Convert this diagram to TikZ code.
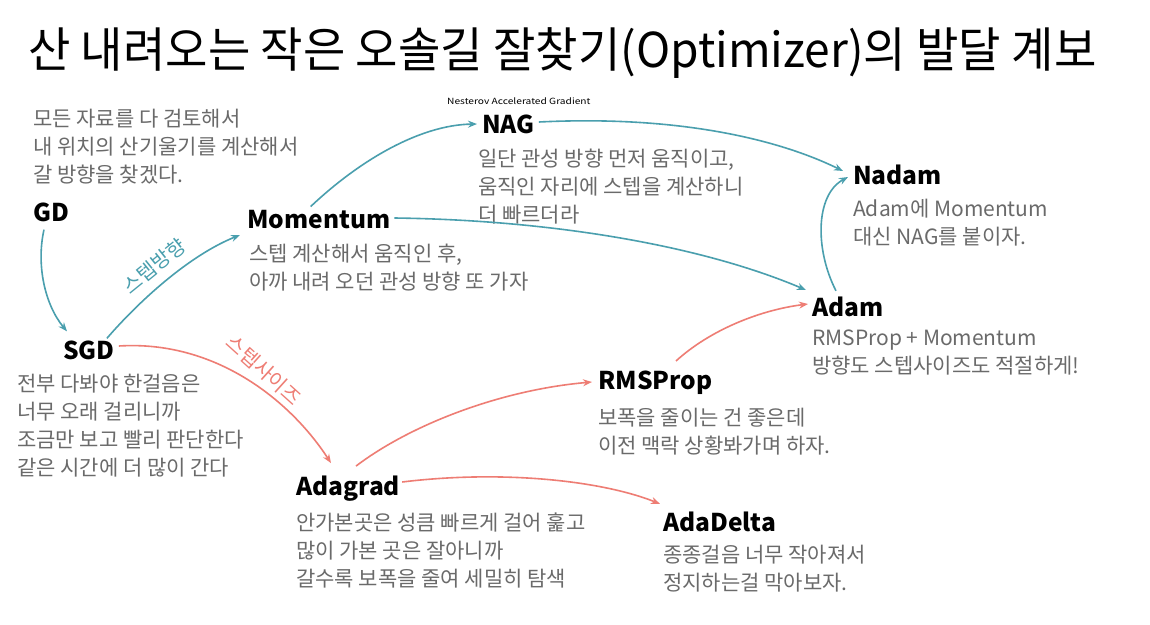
\documentclass[tikz,border=0pt]{standalone}
\usepackage{fontspec}
\setmainfont{Noto Sans CJK KR}
\newfontfamily\titlefont[FakeStretch=0.96]{Noto Sans CJK KR}
\newfontfamily\widefont[FakeStretch=1.2]{Noto Sans CJK KR}
\usetikzlibrary{arrows.meta,calc}
\definecolor{tealc}{HTML}{4A9FAE}
\definecolor{salmonc}{HTML}{EE7D74}
\definecolor{descc}{HTML}{6A6A6A}
\begin{document}
\begin{tikzpicture}[x=1pt,y=-1pt,
  lbl/.style={font=\fontsize{24.5}{28}\selectfont\bfseries, anchor=west, inner sep=0pt},
  dsc/.style={font=\fontsize{21}{28}\selectfont, text=descc, align=left, anchor=north west, inner sep=0pt},
  tarr/.style={draw=tealc, line width=1.6pt, -{Stealth[length=9pt,width=7pt]}},
  sarr/.style={draw=salmonc, line width=1.6pt, -{Stealth[length=9pt,width=7pt]}},
  elbl/.style={font=\fontsize{20}{22}\selectfont, inner sep=0pt}]
\useasboundingbox[fill=white] (0,0) rectangle (1150,624);

\node[anchor=west, inner sep=0pt, font=\titlefont\fontsize{48}{52}\selectfont] (title) at (28,53) {산 내려오는 작은 오솔길 잘찾기(Optimizer)의 발달 계보};

\node[dsc] (gdd) at (33,109) {모든 자료를 다 검토해서\\내 위치의 산기울기를 계산해서\\갈 방향을 찾겠다.};
\node[lbl] (gd) at (33,212) {GD};

\node[lbl] (mom) at (247,220) {Momentum};
\node[dsc] (momd) at (249,244) {스텝 계산해서 움직인 후,\\아까 내려 오던 관성 방향 또 가자};

\node[anchor=west, inner sep=0pt, font=\widefont\fontsize{8.5}{9}\selectfont] (nagf) at (447,101) {Nesterov Accelerated Gradient};
\node[lbl] (nag) at (482,124) {NAG};
\node[dsc] (nagd) at (478,149) {일단 관성 방향 먼저 움직이고,\\움직인 자리에 스텝을 계산하니\\더 빠르더라};

\node[lbl] (nadam) at (853,175) {Nadam};
\node[dsc] (nadamd) at (853,199) {Adam에 Momentum\\대신 NAG를 붙이자.};

\node[lbl] (adam) at (812,307) {Adam};
\node[dsc] (adamd) at (812,330) {RMSProp + Momentum\\방향도 스텝사이즈도 적절하게!};

\node[lbl] (sgd) at (63,350) {SGD};
\node[dsc] (sgdd) at (17,374) {전부 다봐야 한걸음은\\너무 오래 걸리니까\\조금만 보고 빨리 판단한다\\같은 시간에 더 많이 간다};

\node[lbl] (rms) at (598,383) {RMSProp};
\node[dsc] (rmsd) at (598,408) {보폭을 줄이는 건 좋은데\\이전 맥락 상황봐가며 하자.};

\node[lbl] (adag) at (296,489) {Adagrad};
\node[dsc] (adagd) at (296,513) {안가본곳은 성큼 빠르게 걸어 훑고\\많이 가본 곳은 잘아니까\\갈수록 보폭을 줄여 세밀히 탐색};

\node[lbl] (adad) at (663,522) {AdaDelta};
\node[dsc] (adadd) at (663,545) {종종걸음 너무 작아져서\\정지하는걸 막아보자.};

% connectors
\draw[tarr] ($(gd.south west)+(11,8)$) .. controls (36,265) and (45,305) .. ($(sgd.north west)+(4,-9)$);
\draw[tarr] ($(sgd.north east)+(-8,-2)$) .. controls (140,300) and (190,255) .. ($(mom.west)+(-7,15)$);
\draw[tarr] ($(mom.north)+(-8,-4)$) .. controls (360,160) and (420,125) .. ($(nag.west)+(-5,0)$);
\draw[tarr] ($(nag.east)+(4,-2)$) .. controls (680,115) and (780,140) .. ($(nadam.west)+(-10,-4)$);
\draw[tarr] ($(mom.east)+(4,-2)$) .. controls (550,220) and (700,245) .. ($(adam.west)+(-6,-17)$);
\draw[tarr] ($(adam.north west)+(24,-6)$) .. controls (815,250) and (815,195) .. ($(nadam.west)+(-5,2)$);
\draw[sarr] ($(sgd.east)+(4,-4)$) .. controls (215,340) and (290,400) .. ($(adag.north west)+(35,-13)$);
\draw[sarr] ($(adag.north west)+(60,-10)$) .. controls (410,425) and (500,390) .. ($(rms.west)+(-6,-1)$);
\draw[sarr] ($(rms.north west)+(78,-10)$) .. controls (710,330) and (760,310) .. ($(adam.west)+(-4,-3)$);
\draw[sarr] ($(adag.east)+(2,-7)$) .. controls (500,470) and (600,480) .. ($(adad.north west)+(-3,-8)$);

% edge labels
\node[elbl, text=tealc, rotate=39] (lab1) at (154,266) {스텝방향};
\node[elbl, text=salmonc, rotate=-42] (lab2) at (264,370) {스텝사이즈};
\end{tikzpicture}
\end{document}
